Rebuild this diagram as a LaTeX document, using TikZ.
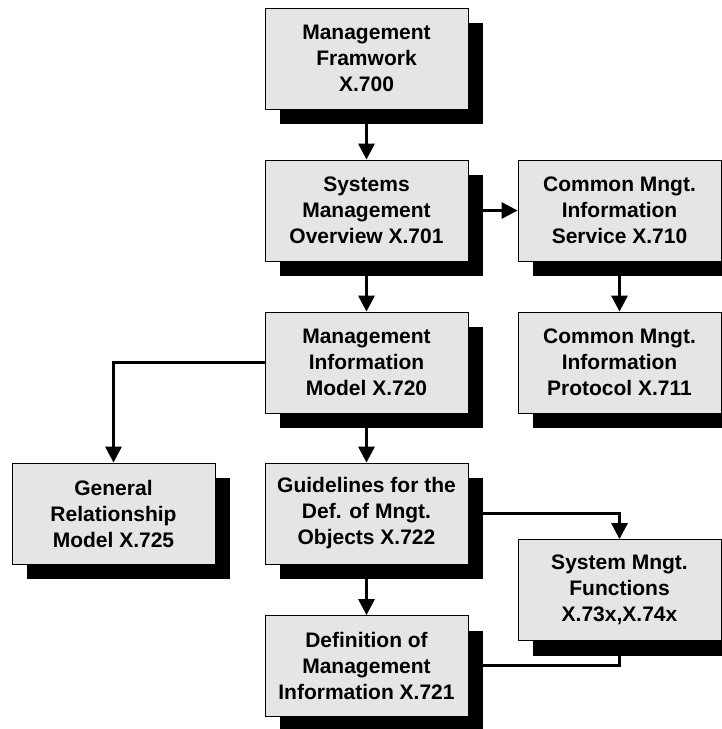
\documentclass[tikz,border=0pt]{standalone}
\usepackage{fontspec}
\setmainfont{Liberation Sans}
\usetikzlibrary{arrows.meta,shadows}
\begin{document}
\begin{tikzpicture}[x=1pt,y=-1pt,
  box/.style={draw=black, line width=0.8pt, fill=black!10,
    minimum width=203pt, minimum height=101pt, inner sep=0pt,
    align=center, font=\fontsize{21}{26}\selectfont\bfseries,
    general shadow={fill=black, shadow xshift=15pt, shadow yshift=-15pt}},
  link/.style={line width=3pt, -{Triangle[length=16pt,width=16pt]}},
  plain/.style={line width=3pt}]
\useasboundingbox (0,0) rectangle (722,729);

\node[box] (fw)   at (366.5,58.5)  {Management\\Framwork\\X.700};
\node[box] (smo)  at (366.5,210.5) {Systems\\Management\\Overview X.701};
\node[box] (cmis) at (619.5,210.5) {Common Mngt.\\Information\\Service X.710};
\node[box] (mim)  at (366.5,362.5) {Management\\Information\\Model X.720};
\node[box] (cmip) at (619.5,362.5) {Common Mngt.\\Information\\Protocol X.711};
\node[box] (grm)  at (113.5,513.5) {General\\Relationship\\Model X.725};
\node[box] (gdmo) at (366.5,513.5) {Guidelines for the\\Def. of Mngt.\\Objects X.722};
\node[box] (smf)  at (619.5,590)   {System Mngt.\\Functions\\X.73x,X.74x};
\node[box] (dmi)  at (366.5,666)   {Definition of\\Management\\Information X.721};

\coordinate (end) at (483,665);

\draw[link] (fw) -- (smo);
\draw[link] (smo) -- (mim);
\draw[link] (smo) -- (cmis);
\draw[link] (cmis) -- (cmip);
\draw[link] (mim) -- (gdmo);
\draw[link] (gdmo) -- (dmi);
\draw[link] (mim.west) -| (grm.north);
\draw[link] (gdmo.east) -| (smf.north);
\draw[plain] (smf.south) |- (end);
\end{tikzpicture}
\end{document}
